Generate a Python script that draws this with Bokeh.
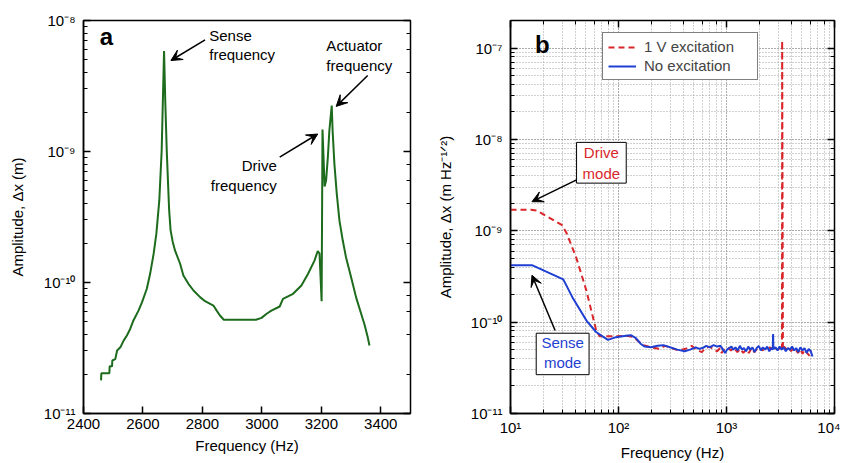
from bokeh.plotting import figure
from bokeh.models import (LogAxis, FixedTicker, CustomJSTickFormatter, Range1d, Arrow,
                          VeeHead, Label, BoxAnnotation, Legend, LegendItem, LogTicker)
from bokeh.layouts import row
from bokeh.embed import file_html
from bokeh.resources import INLINE

FONT = "Liberation Sans"

# ---------------- Panel a data (frequency sweep) ----------------
a_freq = [2459, 2460, 2487, 2488, 2496, 2497, 2507, 2513, 2524, 2535, 2546, 2557, 2568,
          2585, 2597, 2613, 2624, 2636, 2645, 2655, 2663, 2667, 2671, 2675, 2680, 2688,
          2693, 2700, 2708, 2725, 2736, 2753, 2770, 2792, 2809, 2837, 2848, 2859, 2872,
          2980, 2999, 3016, 3032, 3060, 3071, 3105, 3133, 3155, 3177, 3188, 3194, 3201,
          3204, 3211, 3216, 3222, 3227, 3235, 3238, 3244, 3252, 3261, 3272, 3283, 3300,
          3317, 3334, 3345, 3356, 3362]
a_amp = [1.79e-11, 2.03e-11, 2.03e-11, 2.29e-11, 2.29e-11, 2.54e-11, 2.6e-11, 3.03e-11,
         3.2e-11, 3.6e-11, 3.94e-11, 4.42e-11, 5.13e-11, 6.1e-11, 7.08e-11, 8.96e-11,
         1.16e-10, 1.66e-10, 2.35e-10, 4.23e-10, 1.02e-9, 2.45e-9, 5.86e-9, 2.45e-9,
         1.02e-9, 3.6e-10, 2.5e-10, 2.05e-10, 1.75e-10, 1.39e-10, 1.13e-10, 9.77e-11,
         8.69e-11, 7.73e-11, 7.2e-11, 6.67e-11, 6.1e-11, 5.6e-11, 5.2e-11, 5.2e-11,
         5.37e-11, 5.77e-11, 6.1e-11, 6.56e-11, 7.5e-11, 8.2e-11, 9.49e-11, 1.16e-10,
         1.47e-10, 1.74e-10, 1.66e-10, 7.2e-11, 1.47e-9, 5.4e-10, 6.0e-10, 9.06e-10,
         1.44e-9, 2.24e-9, 1.44e-9, 8.05e-10, 4.75e-10, 2.97e-10, 2.1e-10, 1.56e-10,
         1.1e-10, 7.7e-11, 5.77e-11, 4.8e-11, 3.83e-11, 3.3e-11]
a_xticks = [2400, 2600, 2800, 3000, 3200, 3400]

# ---------------- Panel b data (spectra) ----------------
exc_freq = [10, 15.5, 17.6, 29.8, 33.1, 40.8, 50.5, 58, 62.2, 67, 95, 117, 135, 150, 170,
            200, 237, 270, 310, 360, 420, 475, 530, 590, 640, 700, 760, 820, 870, 900, 950,
            1020, 1100, 1180, 1260, 1340, 1430, 1520, 1610, 1710, 1810, 1920, 2030, 2150,
            2270, 2400, 2540, 2690, 2850, 3010, 3160, 3265, 3275, 3330, 3420, 3590, 3770,
            3960, 4160, 4370, 4590, 4820, 5060, 5310, 5570, 5850, 6050]
exc_amp = [1.7e-9, 1.7e-9, 1.66e-9, 1.16e-9, 9.4e-10, 5.0e-10, 2.2e-10, 1.13e-10, 8.1e-11,
           7.0e-11, 7.0e-11, 7.1e-11, 6.9e-11, 6.3e-11, 5.6e-11, 5.3e-11, 5.1e-11, 5.5e-11,
           5.2e-11, 4.9e-11, 5.1e-11, 5.5e-11, 5.0e-11, 4.7e-11, 5.2e-11, 5.4e-11, 5.0e-11,
           4.8e-11, 5.2e-11, 4.6e-11, 5.0e-11, 5.3e-11, 4.9e-11, 5.2e-11, 4.7e-11, 5.1e-11,
           4.6e-11, 5.0e-11, 4.6e-11, 5.2e-11, 4.7e-11, 5.1e-11, 5.3e-11, 4.9e-11, 5.2e-11,
           5.0e-11, 5.3e-11, 4.9e-11, 5.2e-11, 5.0e-11, 5.3e-11, 5.0e-11, 1.2e-7, 5.0e-11,
           5.4e-11, 5.0e-11, 5.3e-11, 4.8e-11, 5.2e-11, 5.0e-11, 4.6e-11, 5.1e-11, 4.5e-11,
           5.0e-11, 4.6e-11, 4.3e-11, 4.9e-11]

noexc_freq = [10, 15.8, 30.8, 38, 50.5, 62, 79.7, 95, 117, 130, 145, 160, 175, 200, 230,
              260, 300, 350, 410, 460, 520, 560, 600, 650, 700, 760, 820, 880, 930, 970,
              1010, 1060, 1110, 1160, 1210, 1270, 1330, 1390, 1450, 1520, 1590, 1660, 1740,
              1820, 1900, 1990, 2080, 2180, 2280, 2380, 2490, 2600, 2680, 2700, 2720, 2840,
              2970, 3100, 3240, 3390, 3540, 3700, 3870, 4050, 4230, 4420, 4620, 4830, 5050,
              5280, 5520, 5770, 6030, 6250]
noexc_amp = [4.2e-10, 4.2e-10, 2.94e-10, 1.81e-10, 1.04e-10, 7.8e-11, 6.4e-11, 6.85e-11,
             7.1e-11, 7.2e-11, 6.7e-11, 5.8e-11, 5.4e-11, 5.3e-11, 5.5e-11, 5.6e-11, 5.3e-11,
             5.0e-11, 4.8e-11, 5.0e-11, 5.3e-11, 5.1e-11, 5.2e-11, 5.5e-11, 5.3e-11, 5.6e-11,
             5.4e-11, 5.5e-11, 5.0e-11, 4.6e-11, 5.0e-11, 5.2e-11, 5.4e-11, 5.0e-11, 5.3e-11,
             4.9e-11, 5.5e-11, 5.0e-11, 5.2e-11, 4.8e-11, 5.4e-11, 5.0e-11, 5.3e-11, 4.7e-11,
             5.2e-11, 5.5e-11, 4.9e-11, 5.3e-11, 5.0e-11, 5.4e-11, 4.8e-11, 5.2e-11, 5.0e-11,
             7.4e-11, 5.1e-11, 5.3e-11, 4.9e-11, 5.4e-11, 5.0e-11, 5.3e-11, 4.8e-11, 5.2e-11,
             5.0e-11, 5.4e-11, 4.9e-11, 5.2e-11, 4.7e-11, 5.3e-11, 4.9e-11, 5.2e-11, 4.6e-11,
             5.1e-11, 4.8e-11, 4.2e-11]

GREEN = "#1d6b1d"
RED = "#d9262b"
BLUE = "#1f3fd2"

POW_CODE = """
const m = {"-":"\\u207b","0":"\\u2070","1":"\\u00b9","2":"\\u00b2","3":"\\u00b3","4":"\\u2074",
           "5":"\\u2075","6":"\\u2076","7":"\\u2077","8":"\\u2078","9":"\\u2079"};
const e = Math.round(Math.log10(tick));
return "10" + String(e).split("").map(c => m[c]).join("");
"""


def style_axis(ax, show_labels=True):
    ax.major_tick_in = 7
    ax.major_tick_out = 0
    ax.minor_tick_in = 4
    ax.minor_tick_out = 0
    ax.major_tick_line_color = "black"
    ax.major_tick_line_width = 1.5
    ax.minor_tick_line_color = "black"
    ax.minor_tick_line_width = 1
    ax.axis_line_color = "black"
    ax.axis_line_width = 1.5
    ax.major_label_text_font = FONT
    ax.major_label_text_font_size = "15px"
    ax.major_label_text_color = "black"
    ax.axis_label_text_font = FONT
    ax.axis_label_text_font_size = "15px"
    ax.axis_label_text_font_style = "normal"
    ax.axis_label_text_color = "black"
    if not show_labels:
        ax.formatter = CustomJSTickFormatter(code="return '';")
        ax.major_label_standoff = 0
        ax.axis_line_color = None


def add_label(p, x, y, text, color="black", size="15px", align="left", style="normal"):
    p.add_layout(Label(x=x, y=y, text=text, text_font=FONT, text_font_size=size,
                       text_color=color, text_align=align, text_baseline="middle",
                       text_font_style=style))


def add_arrow(p, x0, y0, x1, y1):
    p.add_layout(Arrow(end=VeeHead(size=11, fill_color="black", line_color="black"),
                       x_start=x0, y_start=y0, x_end=x1, y_end=y1,
                       line_color="black", line_width=1.5))


H = 463
BOTTOM = H - 413
# ---------------- Panel a ----------------
pa = figure(width=432, height=H, x_range=Range1d(2400, 3500), y_range=Range1d(1e-11, 1e-8),
            y_axis_type="log", output_backend="svg", toolbar_location=None,
            min_border_left=83, min_border_right=22, min_border_top=20, min_border_bottom=BOTTOM)
pa.outline_line_color = "black"
pa.outline_line_width = 1.5
pa.grid.visible = False
pa.line(a_freq, a_amp, line_color=GREEN, line_width=2)

pa.xaxis.ticker = FixedTicker(ticks=a_xticks, minor_ticks=[])
pa.yaxis.formatter = CustomJSTickFormatter(code=POW_CODE)
pa.xaxis.axis_label = "Frequency (Hz)"
pa.yaxis.axis_label = "Amplitude, \u0394x (m)"
for ax in pa.xaxis + pa.yaxis:
    style_axis(ax)
pa.xaxis.major_label_standoff = 5
pa.xaxis.axis_label_standoff = 5
pa.yaxis.major_label_standoff = 8
pa.yaxis.axis_label_standoff = 15
ra = LogAxis(ticker=LogTicker())
style_axis(ra, show_labels=False)
pa.add_layout(ra, "right")

add_label(pa, 2455, 7.6e-9, "a", size="24px", style="bold")
add_label(pa, 2823, 7.68e-9, "Sense")
add_label(pa, 2823, 5.5e-9, "frequency")
add_arrow(pa, 2809, 7.12e-9, 2694, 4.95e-9)
add_label(pa, 3217, 6.44e-9, "Actuator")
add_label(pa, 3217, 4.53e-9, "frequency")
add_arrow(pa, 3356, 3.8e-9, 3250, 2.21e-9)
add_label(pa, 3050, 7.8e-10, "Drive", align="right")
add_label(pa, 3050, 5.5e-10, "frequency", align="right")
add_arrow(pa, 3060, 9.06e-10, 3188, 1.36e-9)

# ---------------- Panel b ----------------
pb = figure(width=408, height=H, x_range=Range1d(10, 1e4), y_range=Range1d(1e-11, 2e-7),
            x_axis_type="log", y_axis_type="log", output_backend="svg", toolbar_location=None,
            min_border_left=78, min_border_right=6, min_border_top=20, min_border_bottom=BOTTOM)
pb.outline_line_color = "black"
pb.outline_line_width = 1.5
for g in pb.grid:
    g.grid_line_color = "#a0a0a0"
    g.grid_line_dash = "1 2"
    g.grid_line_width = 1
    g.minor_grid_line_color = "#a0a0a0"
    g.minor_grid_line_dash = "1 2"
    g.minor_grid_line_width = 1

r_red = pb.line(exc_freq, exc_amp, line_color=RED, line_width=2, line_dash="6 4")
r_blue = pb.line(noexc_freq, noexc_amp, line_color=BLUE, line_width=2)

pb.xaxis.formatter = CustomJSTickFormatter(code=POW_CODE)
pb.yaxis.formatter = CustomJSTickFormatter(code=POW_CODE)
pb.xaxis.axis_label = "Frequency (Hz)"
pb.yaxis.axis_label = "Amplitude, \u0394x (m Hz\u207b\u00b9\u141f\u00b2)"
for ax in pb.xaxis + pb.yaxis:
    style_axis(ax)
pb.xaxis.major_label_standoff = 5
pb.xaxis.axis_label_standoff = 5
pb.yaxis.major_label_standoff = 8
pb.yaxis.axis_label_standoff = 14
rb = LogAxis(ticker=LogTicker())
style_axis(rb, show_labels=False)
pb.add_layout(rb, "right")
tb = LogAxis(ticker=LogTicker())
style_axis(tb, show_labels=False)
pb.add_layout(tb, "above")

legend = Legend(items=[LegendItem(label="1 V excitation", renderers=[r_red]),
                       LegendItem(label="No excitation", renderers=[r_blue])],
                location=(92, 333))
legend.label_text_font = FONT
legend.label_text_font_size = "15px"
legend.glyph_width = 28
legend.glyph_height = 16
legend.label_standoff = 8
legend.label_width = 108
legend.padding = 5
legend.spacing = 2
legend.margin = 0
legend.border_line_color = "black"
legend.border_line_width = 1
legend.background_fill_alpha = 1
pb.add_layout(legend)

add_label(pb, 16.9, 1.1e-7, "b", size="24px", style="bold")

pb.add_layout(BoxAnnotation(left=40.9, right=117.9, top=9.27e-9, bottom=3.32e-9,
                            fill_color="white", fill_alpha=1, line_color="black",
                            line_width=1, line_alpha=1))
add_label(pb, 69.3, 7.1e-9, "Drive", color=RED, align="center")
add_label(pb, 69.3, 4.27e-9, "mode", color=RED, align="center")
add_arrow(pb, 40.9, 3.6e-9, 15.8, 2.08e-9)

pb.add_layout(BoxAnnotation(left=17.3, right=53.4, top=7.56e-11, bottom=2.66e-11,
                            fill_color="white", fill_alpha=1, line_color="black",
                            line_width=1, line_alpha=1))
add_label(pb, 30.4, 5.98e-11, "Sense", color=BLUE, align="center")
add_label(pb, 30.4, 3.6e-11, "mode", color=BLUE, align="center")
add_arrow(pb, 25.9, 8.1e-11, 15.8, 3.26e-10)

layout = row(pa, pb)
open("out.html", "w").write(file_html(layout, INLINE))
